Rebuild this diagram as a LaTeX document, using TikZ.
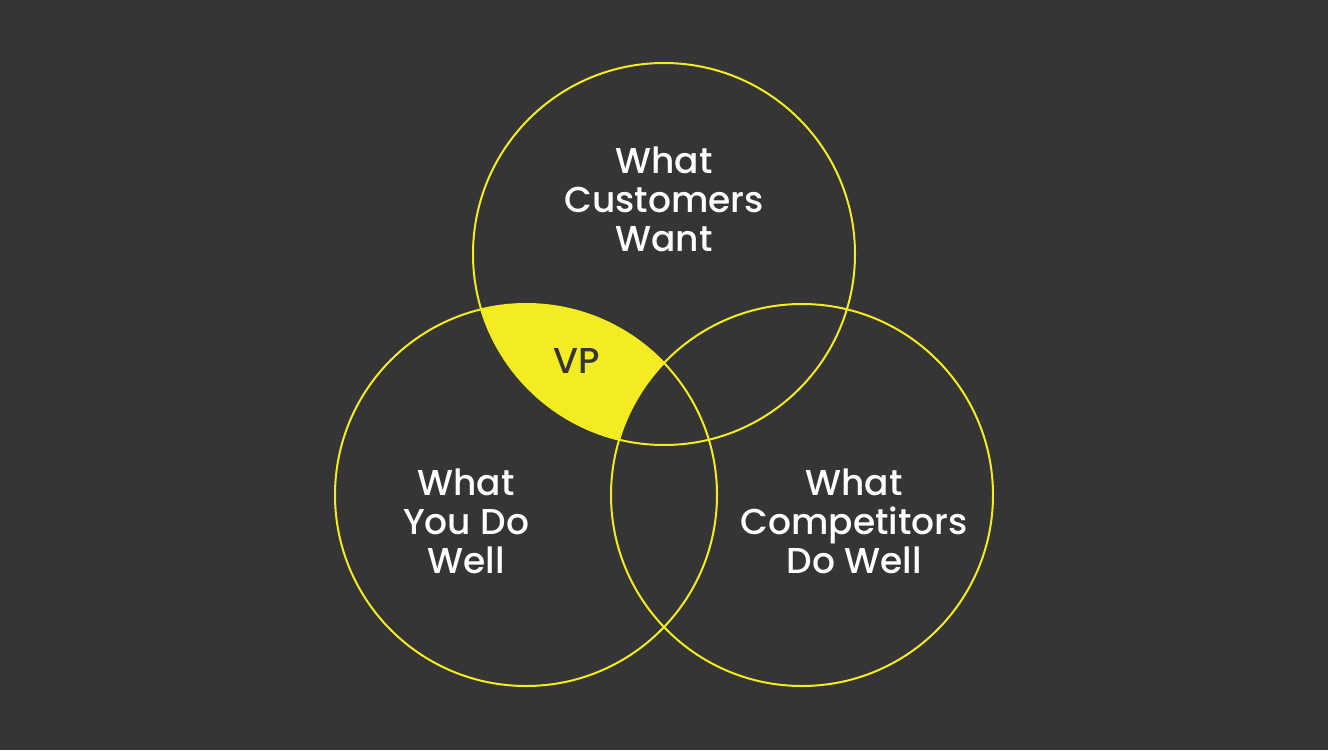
\documentclass[tikz,border=0pt]{standalone}
\usepackage{fontspec}
\newfontfamily\pmed{Poppins Medium}
\definecolor{bg}{HTML}{353535}
\definecolor{vy}{HTML}{F4EC22}
\begin{document}
\begin{tikzpicture}[x=1pt,y=-1pt,
  ring/.style={circle,draw=vy,line width=2pt,minimum size=382pt,inner sep=0pt},
  lbl/.style={text=white,align=center,font=\pmed\fontsize{36}{39}\selectfont}]
\fill[bg] (0,0) rectangle (1328,750);
\useasboundingbox (0,0) rectangle (1328,750);
\begin{scope}
  \clip (664,254) circle[radius=191];
  \clip (526,495) circle[radius=191];
  \fill[vy,even odd rule] (802,495) circle[radius=191] (0,0) rectangle (1328,750);
\end{scope}
\node[ring] (cust) at (664,254) {};
\node[ring] (you) at (526,495) {};
\node[ring] (comp) at (802,495) {};
\node[lbl] (tcust) at (664,199) {What\\Customers\\Want};
\node[lbl] (tyou) at (466,521) {What\\You Do\\Well};
\node[lbl] (tcomp) at (854,521) {What\\Competitors\\Do Well};
\node[lbl,text=bg] (vp) at (577,361) {VP};
\end{tikzpicture}
\end{document}
